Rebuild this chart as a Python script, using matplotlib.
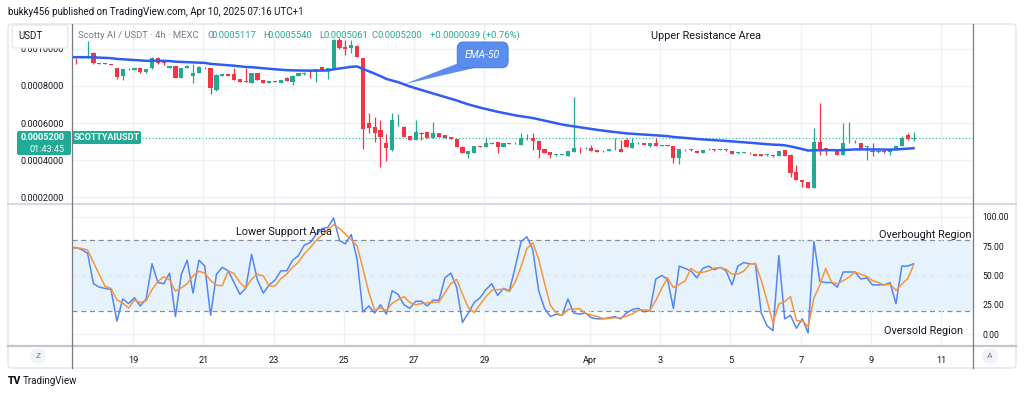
import numpy as np
import pandas as pd
import matplotlib
matplotlib.use("Agg")
import matplotlib.pyplot as plt
from matplotlib.patches import FancyBboxPatch, Polygon, Circle

plt.rcParams['font.family'] = ['Roboto', 'DejaVu Sans']

# ---------------- data ----------------
first_bar_day = 17.0 + 5 / 24      # Mar 17 05:00 (day number, April = 31 + d)
bar_hours = 4

opens = [.000955, .000951, .000950, .000950, .000977, .000923, .000920, .000915, .000896, .000855,
         .000889, .000885, .000896, .000875, .000895, .000952, .000932, .000896, .000907, .000844,
         .000896, .000855, .000872, .000898, .000896, .000778, .000855, .000864, .000864, .000837,
         .000823, .000816, .000869, .000832, .000816, .000824, .000816, .000843, .000822, .000853,
         .000862, .000878, .000876, .000900, .000885, .000891, .001045, .001011, .001002, .001015,
         .000950, .000600, .000579, .000563, .000493, .000455, .000609, .000579, .000531, .000509,
         .000546, .000552, .000520, .000547, .000536, .000525, .000515, .000472, .000434, .000439,
         .000475, .000472, .000488, .000498, .000472, .000490, .000491, .000482, .000513, .000520,
         .000504, .000461, .000445, .000427, .000428, .000423, .000445, .000467, .000464, .000466,
         .000455, .000448, .000450, .000459, .000461, .000509, .000466, .000491, .000493, .000477,
         .000493, .000476, .000479, .000477, .000412, .000453, .000457, .000450, .000439, .000459,
         .000457, .000456, .000457, .000450, .000438, .000440, .000440, .000434, .000433, .000427,
         .000425, .000423, .000455, .000429, .000337, .000294, .000283, .000251, .000500, .000463,
         .000461, .000455, .000429, .000496, .000499, .000493, .000470, .000450, .000442, .000450,
         .000442, .000455, .000477, .000536, .0005117]
highs = [.000960, .000952, .000955, .001041, .000980, .000925, .000922, .000917, .000898, .000893,
         .000894, .000898, .000898, .000893, .000955, .000954, .000934, .000909, .000909, .000898,
         .000910, .000918, .000906, .000900, .000898, .000862, .000866, .000866, .000896, .000839,
         .000896, .000872, .000871, .000834, .000828, .000826, .000834, .000850, .000857, .000871,
         .000873, .000880, .000891, .000902, .000896, .001050, .001060, .001047, .001047, .001020,
         .000952, .000654, .000633, .000617, .000540, .000654, .000649, .000582, .000533, .000617,
         .000550, .000554, .000606, .000549, .000538, .000527, .000517, .000474, .000452, .000479,
         .000477, .000525, .000497, .000500, .000495, .000492, .000496, .000547, .000541, .000547,
         .000506, .000463, .000447, .000432, .000433, .000452, .000740, .000469, .000469, .000482,
         .000457, .000453, .000463, .000520, .000509, .000520, .000520, .000496, .000495, .000495,
         .000520, .000481, .000481, .000479, .000463, .000459, .000459, .000452, .000457, .000464,
         .000459, .000461, .000459, .000452, .000443, .000445, .000442, .000436, .000435, .000432,
         .000427, .000452, .000457, .000431, .000375, .000296, .000285, .000574, .000708, .000465,
         .000463, .000457, .000600, .000606, .000509, .000495, .000475, .000493, .000452, .000452,
         .000457, .000479, .000531, .000545, .000554]
lows = [.000940, .000918, .000948, .000948, .000920, .000916, .000916, .000911, .000837, .000832,
        .000886, .000883, .000872, .000870, .000890, .000920, .000912, .000894, .000840, .000842,
        .000894, .000816, .000870, .000892, .000756, .000775, .000853, .000853, .000830, .000819,
        .000819, .000814, .000830, .000814, .000814, .000819, .000814, .000824, .000805, .000851,
        .000860, .000842, .000821, .000880, .000835, .000889, .001000, .000966, .000977, .000955,
        .000460, .000546, .000498, .000364, .000395, .000450, .000584, .000523, .000507, .000507,
        .000510, .000518, .000518, .000523, .000518, .000513, .000470, .000437, .000412, .000437,
        .000470, .000470, .000486, .000439, .000470, .000485, .000489, .000480, .000511, .000455,
        .000412, .000437, .000412, .000425, .000426, .000421, .000443, .000439, .000462, .000448,
        .000443, .000446, .000448, .000457, .000443, .000470, .000464, .000489, .000480, .000472,
        .000475, .000474, .000474, .000386, .000380, .000451, .000452, .000437, .000437, .000457,
        .000452, .000454, .000452, .000432, .000436, .000438, .000435, .000421, .000423, .000425,
        .000420, .000421, .000421, .000310, .000292, .000256, .000249, .000249, .000429, .000429,
        .000457, .000427, .000427, .000494, .000494, .000459, .000402, .000423, .000440, .000440,
        .000429, .000453, .000475, .000510, .0005061]
closes = [.000950, .000948, .000953, .000958, .000925, .000918, .000918, .000913, .000848, .000891,
          .000892, .000896, .000875, .000891, .000952, .000925, .000925, .000907, .000844, .000896,
          .000907, .000872, .000904, .000894, .000789, .000859, .000864, .000855, .000832, .000821,
          .000821, .000869, .000832, .000816, .000826, .000821, .000832, .000826, .000855, .000869,
          .000871, .000875, .000889, .000882, .000894, .001047, .001002, .000997, .001020, .000957,
          .000568, .000574, .000547, .000525, .000466, .000617, .000613, .000525, .000509, .000552,
          .000542, .000520, .000547, .000525, .000520, .000515, .000472, .000439, .000450, .000477,
          .000472, .000493, .000495, .000472, .000493, .000487, .000494, .000520, .000516, .000504,
          .000455, .000439, .000429, .000430, .000431, .000450, .000466, .000464, .000467, .000450,
          .000445, .000451, .000461, .000462, .000445, .000472, .000493, .000494, .000482, .000493,
          .000477, .000479, .000476, .000412, .000461, .000457, .000454, .000439, .000455, .000462,
          .000454, .000459, .000454, .000434, .000441, .000443, .000437, .000423, .000425, .000430,
          .000422, .000450, .000423, .000332, .000294, .000283, .000251, .000500, .000455, .000460,
          .000459, .000429, .000493, .000499, .000496, .000461, .000473, .000442, .000450, .000442,
          .000455, .000477, .000520, .000512, .000520]

stoch_k = [73, 74, 72, 69, 43, 40, 39, 38, 11, 30, 26, 31, 24, 30, 60, 44, 43, 52, 15, 51,
           63, 35, 63, 58, 16, 51, 57, 54, 44, 34, 39, 68, 46, 35, 42, 46, 54, 54, 63, 67,
           76, 78, 85, 90, 91, 99, 80, 77, 85, 64, 19, 24, 18, 25, 17, 37, 34, 25, 22, 28,
           28, 24, 29, 29, 48, 52, 40, 10, 18, 27, 31, 38, 43, 33, 39, 37, 57, 79, 83, 72,
           37, 22, 15, 17, 16, 30, 18, 17, 18, 14, 13, 13, 14, 15, 13, 18, 21, 22, 19, 20,
           47, 50, 47, 22, 58, 56, 54, 48, 56, 58, 55, 57, 54, 42, 58, 61, 60, 60, 18, 7,
           3, 67, 13, 16, 5, 13, 1, 79, 45, 44, 44, 40, 53, 53, 53, 47, 48, 42, 42, 42,
           44, 26, 58, 58, 60]

ema_seed = 0.000955
ema_length = 50
d_length = 3

price_ticks = [0.0002, 0.0004, 0.0006, 0.0008, 0.0010]
osc_ticks = [0, 25, 50, 75, 100]
day_ticks = [19, 21, 23, 25, 27, 29, 32, 34, 36, 38, 40, 42]
day_labels = ['19', '21', '23', '25', '27', '29', 'Apr', '3', '5', '7', '9', '11']
last_price = 0.00052
band_upper, band_mid, band_lower = 80, 50, 20

# ---------------- derived series ----------------
o = np.array(opens); h = np.array(highs); l = np.array(lows); c = np.array(closes)
n = len(c)
t = first_bar_day + np.arange(n) * bar_hours / 24.0
alpha = 2.0 / (ema_length + 1)
ema = np.empty(n)
prev = ema_seed
for i in range(n):
    prev = alpha * c[i] + (1 - alpha) * prev
    ema[i] = prev
k = np.array(stoch_k, dtype=float)
d = pd.Series(k).rolling(d_length, min_periods=1).mean().values

# ---------------- figure ----------------
W, H = 1024, 396
fig = plt.figure(figsize=(W / 100, H / 100), dpi=100)
fig.patch.set_facecolor('white')

def fa(x0, y0, x1, y1):
    return [x0 / W, 1 - y1 / H, (x1 - x0) / W, (y1 - y0) / H]

GREEN = '#22ab94'
RED = '#f23645'
GRID = '#eef1f6'
TXT = '#131722'
xlim = (17.265, 42.90)

ax1 = fig.add_axes(fa(72, 24, 973, 203))
ax2 = fig.add_axes(fa(72, 204, 973, 345))

# --- price panel
ax1.set_xlim(*xlim)
ax1.set_ylim(0.00017, 0.001133)
cols = [GREEN if cc >= oo else RED for oo, cc in zip(o, c)]
ax1.vlines(t, l, h, colors=cols, lw=0.9, zorder=2)
body = np.maximum(np.abs(c - o), 4e-6)
ax1.bar(t, body, bottom=np.minimum(o, c), width=0.12, color=cols, lw=0, zorder=3)
ax1.plot(t, ema, color='#2f5cf5', lw=1.8, zorder=4)
ax1.axhline(last_price, color=GREEN, ls=(0, (1, 2)), lw=0.8, zorder=1)
ax1.set_yticks(price_ticks)
ax1.set_yticklabels([f'{v:.7f}' for v in price_ticks])
ax1.set_xticks(day_ticks)
ax1.tick_params(axis='x', labelbottom=False, length=0)
ax1.tick_params(axis='y', length=0, pad=6, labelsize=6.6, labelcolor=TXT)
ax1.grid(True, color=GRID, lw=1, zorder=0)
for s in ax1.spines.values():
    s.set_visible(False)

# EMA-50 callout
tip_idx = 57
ax1.text(28.95, 0.000967, 'EMA-50', color='white', fontsize=7.5, style='italic',
         ha='center', va='center', zorder=6,
         bbox=dict(boxstyle='round,pad=0.75,rounding_size=0.6', fc='#5b8def', ec='#4a7de8', lw=0.8))
ax1.add_patch(Polygon([(t[tip_idx], ema[tip_idx]), (28.34, 0.000928), (28.75, 0.000898)],
                      closed=True, fc='#5b8def', ec='none', zorder=5))

# --- oscillator panel
ax2.set_xlim(*xlim)
ax2.set_ylim(-9.3, 111)
ax2.axhspan(band_lower, band_upper, facecolor='#2196f3', alpha=0.11, lw=0, zorder=0)
for lev in (band_upper, band_mid, band_lower):
    ax2.axhline(lev, color='#8a8d96', ls=(0, (4, 3)), lw=0.9, zorder=1)
ax2.plot(t, k, color='#5585f5', lw=1.1, zorder=3)
ax2.plot(t, d, color='#f7953b', lw=1.1, zorder=4)
ax2.set_yticks(osc_ticks)
ax2.set_yticklabels([f'{v:.2f}' for v in osc_ticks])
ax2.yaxis.tick_right()
ax2.set_xticks(day_ticks)
ax2.set_xticklabels(day_labels)
ax2.tick_params(axis='y', length=0, pad=7, labelsize=6.2, labelcolor=TXT)
ax2.tick_params(axis='x', length=0, pad=8, labelsize=6.6, labelcolor=TXT)
ax2.grid(True, color=GRID, lw=1, zorder=0)
for s in ax2.spines.values():
    s.set_visible(False)

# ---------------- overlay (layout elements, pixel coords) ----------------
ov = fig.add_axes([0, 0, 1, 1], zorder=10)
ov.set_xlim(0, W); ov.set_ylim(H, 0); ov.axis('off')

ov.add_patch(FancyBboxPatch((8, 24), 1008, 344, boxstyle='round,pad=0,rounding_size=4',
                            fc='none', ec='#e0e3eb', lw=1))
ov.plot([8, 1016], [203.5, 203.5], color='#d6d9e0', lw=1.6)
ov.plot([8, 1016], [345.5, 345.5], color='#c3c6cd', lw=1.6)
ov.plot([72, 72], [24, 368], color='#787b86', lw=0.9)
ov.plot([973, 973], [24, 368], color='#787b86', lw=0.9)

ov.text(8, 12, 'bukky456 published on TradingView.com, Apr 10, 2025 07:16 UTC+1',
        fontsize=7, color=TXT, va='center', ha='left')

# USDT box (covers most of the top price label, as in the original)
ov.add_patch(FancyBboxPatch((12, 25), 56, 23, boxstyle='round,pad=0,rounding_size=3',
                            fc='white', ec='#e0e3eb', lw=0.8))
ov.text(18, 36, 'USDT', fontsize=7, color=TXT, va='center', ha='left')

# legend line
ov.text(78, 35, 'Scotty AI / USDT · 4h · MEXC', fontsize=6.8, color='#787b86', va='center')
pieces = [(207, 'O', '#787b86'), (211.5, '0.0005117', GREEN), (263, 'H', '#787b86'),
          (268, '0.0005540', GREEN), (319, 'L', '#787b86'), (323.5, '0.0005061', GREEN),
          (372, 'C', '#787b86'), (377, '0.0005200', GREEN), (430, '+0.0000039 (+0.76%)', GREEN)]
for x, s, col in pieces:
    ov.text(x, 35, s, fontsize=6.8, color=col, va='center', ha='left')

# annotations
ov.text(706, 36, 'Upper Resistance Area', fontsize=7.8, color=TXT, ha='center', va='center')
ov.text(284, 232, 'Lower Support Area', fontsize=7.8, color=TXT, ha='center', va='center')
ov.text(925, 235, 'Overbought Region', fontsize=7.8, color=TXT, ha='center', va='center')
ov.text(924, 331, 'Oversold Region', fontsize=7.8, color=TXT, ha='center', va='center')

# last price labels
ov.add_patch(FancyBboxPatch((17, 131), 54, 24, boxstyle='round,pad=0,rounding_size=2',
                            fc=GREEN, ec='none'))
ov.text(65, 137.5, '0.0005200', fontsize=6.6, color='white', weight='bold', ha='right', va='center')
ov.text(65, 149, '01:43:45', fontsize=6.6, color='white', ha='right', va='center')
ov.add_patch(FancyBboxPatch((72, 131), 69, 13, boxstyle='round,pad=0,rounding_size=2',
                            fc=GREEN, ec='none'))
ov.text(106.5, 137.5, 'SCOTTYAIUSDT', fontsize=6.6, color='white', weight='bold',
        ha='center', va='center')

# time-axis buttons
for cx, s in ((38, 'Z'), (990, 'A')):
    ov.add_patch(Circle((cx, 356), 8, fc='#f0f3fa', ec='none'))
    ov.text(cx, 356.5, s, fontsize=6, color='#787b86', ha='center', va='center')

# logo
ov.text(8, 381, 'TV', fontsize=7.5, color=TXT, weight='heavy', ha='left', va='center')
ov.text(23, 381, 'TradingView', fontsize=7, color=TXT, ha='left', va='center')

fig.savefig('out.png', dpi=100, facecolor='white')
